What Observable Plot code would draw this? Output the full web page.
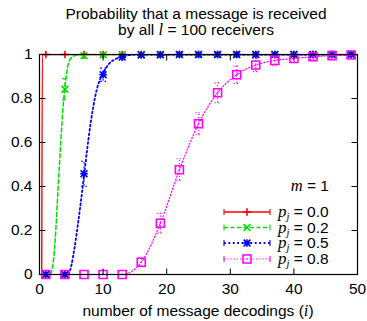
<!DOCTYPE html>
<html><head><meta charset="utf-8">
<script src="https://cdn.jsdelivr.net/npm/d3@7"></script>
<script src="https://cdn.jsdelivr.net/npm/@observablehq/plot@0.6"></script>
<style>body{margin:0;background:#fff} svg{display:block}</style>
</head><body><div id="chart"></div>
<script>
// ---- data ----
const xTicks = [0, 10, 20, 30, 40, 50];
const yTicks = [0, 0.2, 0.4, 0.6, 0.8, 1];
const seriesNames = ["0.0", "0.2", "0.5", "0.8"];
const iSample = [1, 4, 7, 10, 13, 16, 19, 22, 25, 28, 31, 34, 37, 40, 43, 46, 49];
const p00 = [1, 1, 1, 1, 1, 1, 1, 1, 1, 1, 1, 1, 1, 1, 1, 1, 1];
const p00Err = [0, 0, 0, 0, 0, 0, 0, 0, 0, 0, 0, 0, 0, 0, 0, 0, 0];
const p02 = [0, 0.842, 0.995, 0.999, 1, 1, 1, 1, 1, 1, 1, 1, 1, 1, 1, 1, 1];
const p02Err = [0, 0.048, 0.012, 0.006, 0.004, 0, 0, 0, 0, 0, 0, 0, 0, 0, 0, 0, 0];
const p05 = [0, 0, 0.458, 0.908, 0.988, 0.998, 0.999, 1, 1, 1, 1, 1, 1, 1, 1, 1, 1];
const p05Err = [0, 0, 0.057, 0.03, 0.01, 0.006, 0.004, 0.003, 0, 0, 0, 0, 0, 0, 0, 0, 0];
const p08 = [0, 0, 0, 0, 0, 0.056, 0.233, 0.476, 0.685, 0.826, 0.908, 0.952, 0.973, 0.982, 0.99, 0.995, 0.998];
const p08Err = [0, 0, 0, 0, 0, 0.02, 0.045, 0.05, 0.05, 0.045, 0.04, 0.03, 0.022, 0.016, 0.012, 0.008, 0.005];
// theoretical curves
const c00x = [0.35, 0.45, 1, 50];
const c00y = [0, 1, 1, 1];
const c02x = [1.8, 2.25, 2.6, 2.9, 3.3, 3.66, 4, 4.3, 4.6, 5.2, 6, 7, 50];
const c02y = [0, 0.08, 0.22, 0.38, 0.58, 0.745, 0.85, 0.92, 0.965, 0.99, 0.998, 1, 1];
const c05x = [4.6, 5.0, 5.5, 6.0, 6.5, 7, 7.5, 8, 8.5, 9, 9.5, 10, 11, 12, 13, 14, 15, 50];
const c05y = [0, 0.04, 0.12, 0.22, 0.33, 0.45, 0.57, 0.68, 0.77, 0.84, 0.885, 0.915, 0.96, 0.98, 0.99, 0.997, 1, 1];
const c08x = [0, 13, 16, 19, 22, 25, 28, 31, 34, 37, 40, 43, 46, 49];
const c08y = [0, 0, 0.056, 0.233, 0.476, 0.685, 0.826, 0.908, 0.952, 0.973, 0.982, 0.99, 0.995, 0.998];

// ---- symbols ----
const symPlus = {draw(c){const r=3.8;c.moveTo(-r,0);c.lineTo(r,0);c.moveTo(0,-r);c.lineTo(0,r);}};
const symTimes = {draw(c){const r=3.4;c.moveTo(-r,-r);c.lineTo(r,r);c.moveTo(-r,r);c.lineTo(r,-r);}};
const symStar = {draw(c){symPlus.draw(c);symTimes.draw(c);}};
const symSquare = {draw(c){const r=4;c.moveTo(-r,-r);c.lineTo(r,-r);c.lineTo(r,r);c.lineTo(-r,r);c.closePath();c.moveTo(-0.6,0);c.lineTo(0.6,0);}};
const symCap = {draw(c){c.moveTo(-3,0);c.lineTo(3,0);}};
const tickUp = {draw(c){c.moveTo(0,0);c.lineTo(0,-6);}};
const tickDown = {draw(c){c.moveTo(0,0);c.lineTo(0,6);}};
const tickRight = {draw(c){c.moveTo(0,0);c.lineTo(6,0);}};
const tickLeft = {draw(c){c.moveTo(0,0);c.lineTo(-6,0);}};

const series = [
  {name: seriesNames[0], v: p00, e: p00Err, cx: c00x, cy: c00y, color: "#ff0000", dash: null, w: 1.4, sym: symPlus},
  {name: seriesNames[1], v: p02, e: p02Err, cx: c02x, cy: c02y, color: "#00e000", dash: "4,2.5", w: 1.5, sym: symTimes},
  {name: seriesNames[2], v: p05, e: p05Err, cx: c05x, cy: c05y, color: "#0000ff", dash: "1.8,2.6", w: 1.8, sym: symStar},
  {name: seriesNames[3], v: p08, e: p08Err, cx: c08x, cy: c08y, color: "#ff00ff", dash: "1.2,2", w: 1.2, sym: symSquare}
];

const marks = [];
for (const s of series) {
  const curve = s.cx.map((x, k) => ({x, y: s.cy[k]}));
  const pts = iSample.map((i, k) => ({i, v: s.v[k], e: s.e[k]}));
  const errs = pts.filter(d => d.e > 0);
  marks.push(Plot.line(curve, {x: "x", y: "y", stroke: s.color, strokeWidth: s.w, strokeDasharray: s.dash, curve: "monotone-x", clip: true}));
  marks.push(Plot.ruleX(errs, {x: "i", y1: d => d.v - d.e, y2: d => Math.min(1, d.v + d.e), stroke: s.color, strokeWidth: 1.1, strokeDasharray: s.dash}));
  marks.push(Plot.dot(errs, {x: "i", y: d => d.v - d.e, symbol: symCap, r: 3, fill: "none", stroke: s.color, strokeWidth: 1.1, strokeDasharray: s.dash}));
  marks.push(Plot.dot(errs.filter(d => d.v + d.e <= 1), {x: "i", y: d => d.v + d.e, symbol: symCap, r: 3, fill: "none", stroke: s.color, strokeWidth: 1.1, strokeDasharray: s.dash}));
  marks.push(Plot.dot(pts, {x: "i", y: "v", symbol: s.sym, r: 3, fill: "none", stroke: s.color, strokeWidth: 1.6}));
}
marks.push(Plot.frame({stroke: "#000", strokeWidth: 1.2}));
marks.push(Plot.dot(xTicks.slice(1, -1), {x: d => d, y: 0, symbol: tickUp, fill: "none", stroke: "#000", strokeWidth: 1}));
marks.push(Plot.dot(xTicks.slice(1, -1), {x: d => d, y: 1, symbol: tickDown, fill: "none", stroke: "#000", strokeWidth: 1}));
marks.push(Plot.dot(yTicks.slice(1, -1), {x: 0, y: d => d, symbol: tickRight, fill: "none", stroke: "#000", strokeWidth: 1}));
marks.push(Plot.dot(yTicks.slice(1, -1), {x: 50, y: d => d, symbol: tickLeft, fill: "none", stroke: "#000", strokeWidth: 1}));

const FS = 15.5;
const svgEl = Plot.plot({
  width: 367, height: 321,
  marginLeft: 39, marginRight: 10, marginTop: 54, marginBottom: 47,
  style: {fontFamily: "'Liberation Sans', Arial, sans-serif", fontSize: FS + "px", color: "#000", background: "#fff"},
  x: {domain: [0, 50], ticks: xTicks, tickSize: 0, tickPadding: 8, tickFormat: d => String(d), label: null},
  y: {domain: [0, 1], ticks: yTicks, tickSize: 0, tickPadding: 7, tickFormat: d => String(d), label: null},
  marks
});
document.getElementById("chart").appendChild(svgEl);

// ---- texts & legend ----
const svg = d3.select(svgEl);
const serif = "'Liberation Serif', 'Times New Roman', serif";
const g = svg.append("g").attr("font-family", "'Liberation Sans', Arial, sans-serif").attr("font-size", FS).attr("fill", "#000").attr("text-anchor", "start");
g.append("text").attr("x", 196).attr("y", 19).attr("text-anchor", "middle").text("Probability that a message is received");
const t2 = g.append("text").attr("x", 196).attr("y", 35).attr("text-anchor", "middle");
t2.append("tspan").text("by all ");
t2.append("tspan").attr("font-family", serif).attr("font-style", "italic").attr("font-size", FS + 1).text("l");
t2.append("tspan").text(" = 100 receivers");
const xl = g.append("text").attr("x", 198).attr("y", 316).attr("text-anchor", "middle");
xl.append("tspan").text("number of message decodings (");
xl.append("tspan").attr("font-family", serif).attr("font-style", "italic").attr("font-size", FS + 1).text("i");
xl.append("tspan").text(")");
const mt = g.append("text").attr("x", 329).attr("y", 191).attr("text-anchor", "end");
mt.append("tspan").attr("font-family", serif).attr("font-style", "italic").attr("font-size", FS + 1).text("m");
mt.append("tspan").text(" = 1");

const rowsY = [212, 227.5, 243, 259];
series.forEach((s, k) => {
  const y = rowsY[k];
  const lg = svg.append("g").attr("fill", "none").attr("stroke", s.color);
  lg.append("path").attr("d", `M224,${y}H270`).attr("stroke-width", s.w).attr("stroke-dasharray", s.dash);
  lg.append("path").attr("d", `M224,${y-3}V${y+3}M270,${y-3}V${y+3}`).attr("stroke-width", 1.1);
  lg.append("path").attr("transform", `translate(247,${y})`).attr("stroke-width", 1.6)
    .attr("d", (() => { const p = d3.path(); s.sym.draw(p); return p.toString(); })());
  const t = g.append("text").attr("x", 278).attr("y", y + 5);
  t.append("tspan").attr("font-family", serif).attr("font-style", "italic").attr("font-size", FS + 1.5).text("p");
  t.append("tspan").attr("font-family", serif).attr("font-style", "italic").attr("font-size", 10.5).attr("dy", 3).text("j");
  t.append("tspan").attr("dy", -3).text(" = " + s.name);
});
</script></body></html>
